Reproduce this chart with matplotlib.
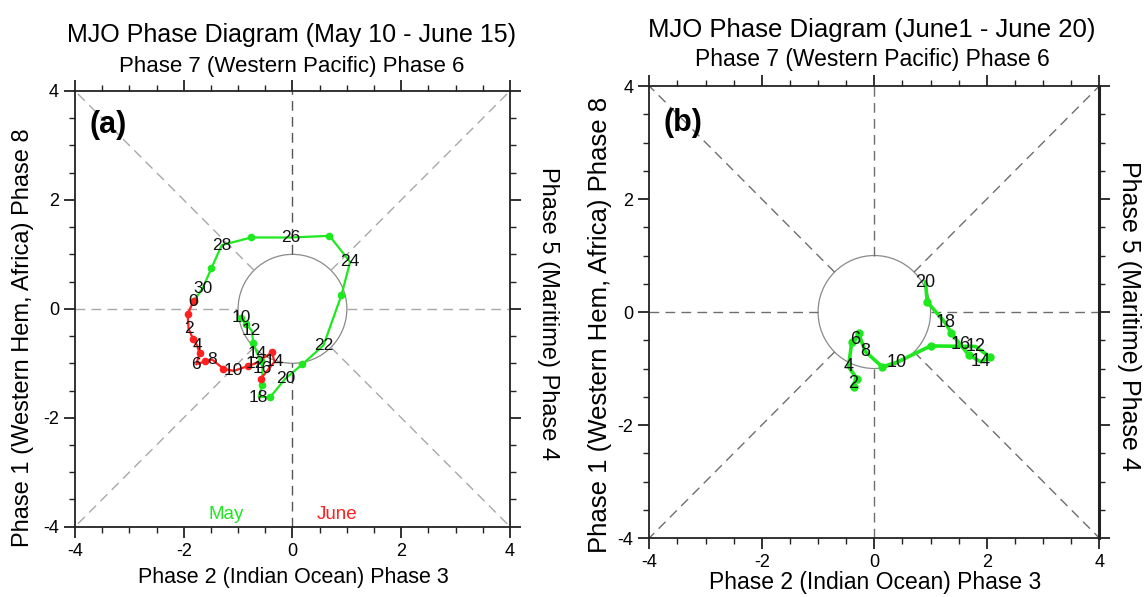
import numpy as np
import matplotlib
matplotlib.use("Agg")
from matplotlib import pyplot as plt
from matplotlib.patches import Circle

plt.rcParams['font.family'] = ['Liberation Sans', 'DejaVu Sans']
plt.rcParams['axes.unicode_minus'] = False

# panel (a): May 10 - May 31 (green), June 1 - June 15 (red)
may_days = list(range(10, 32))
may_x = [-0.95, -0.85, -0.75, -0.72, -0.65, -0.58, -0.55, -0.56, -0.62, -0.41, -0.13,
         0.18, 0.57, 0.90, 1.06, 0.68, -0.03, -0.76, -1.30, -1.49, -1.65, -1.82]
may_y = [-0.16, -0.28, -0.40, -0.62, -0.82, -0.95, -1.10, -1.40, -1.62, -1.62, -1.28,
         -1.02, -0.67, 0.25, 0.86, 1.34, 1.31, 1.31, 1.17, 0.75, 0.38, 0.14]

june_days = list(range(1, 16))
june_x = [-1.93, -1.91, -1.83, -1.75, -1.71, -1.77, -1.60, -1.48, -1.27, -1.08, -0.82,
          -0.68, -0.38, -0.33, -0.58]
june_y = [-0.10, -0.37, -0.55, -0.68, -0.82, -1.02, -0.96, -0.93, -1.10, -1.14, -1.05,
          -1.00, -0.80, -0.97, -1.28]

# panel (b): June 1 - June 20
b_days = list(range(1, 21))
b_x = [-0.36, -0.37, -0.30, -0.46, -0.40, -0.34, -0.28, -0.16, 0.14, 0.40, 1.00,
       1.80, 2.06, 1.89, 1.68, 1.53, 1.37, 1.26, 0.94, 0.91]
b_y = [-1.32, -1.27, -1.19, -0.97, -0.53, -0.49, -0.38, -0.70, -0.97, -0.89, -0.60,
       -0.61, -0.80, -0.88, -0.76, -0.58, -0.37, -0.19, 0.18, 0.53]

ticks = [-4, -2, 0, 2, 4]
GREEN = '#1ee81e'
RED = '#ff2020'


def fundo(ax, cor_diag, cor_vert, lw_dir=1.3):
    # linhas tracejadas das fases e circulo unitario
    r = 1 / np.sqrt(2)
    for sx in (-1, 1):
        for sy in (-1, 1):
            ax.plot([sx * r, sx * 4], [sy * r, sy * 4], ls=(0, (7, 4.5)), color=cor_diag, lw=1)
    ax.plot([-4, -1], [0, 0], ls=(0, (7, 4.5)), color=cor_diag, lw=1)
    ax.plot([1, 4], [0, 0], ls=(0, (7, 4.5)), color=cor_diag, lw=1)
    ax.plot([0, 0], [1, 4], ls=(0, (7, 4.5)), color=cor_vert, lw=1)
    ax.plot([0, 0], [-4, -1], ls=(0, (7, 4.5)), color=cor_vert, lw=1)
    ax.add_patch(Circle((0, 0), 1, fill=False, ec='#8a8a8a', lw=0.9))

    ax.set_xlim(-4, 4)
    ax.set_ylim(-4, 4)
    ax.set_aspect('auto')
    ax.set_xticks(ticks)
    ax.set_yticks(ticks)
    ax.set_xticks(np.arange(-4, 4.01, 0.5), minor=True)
    ax.set_yticks(np.arange(-4, 4.01, 0.5), minor=True)
    ax.tick_params(which='both', direction='out', top=True, right=True, labelsize=13,
                   width=1.3, color='#222222')
    ax.tick_params(which='major', length=8)
    ax.tick_params(which='minor', length=4, width=1)
    for s in ax.spines.values():
        s.set_linewidth(1.3)
        s.set_color('#222222')
    ax.spines['right'].set_linewidth(lw_dir)


def trajeto(ax, xs, ys, dias, cor, lw, ms, fs):
    ax.plot(xs, ys, color=cor, lw=lw, zorder=3)
    mx = [x for x, d in zip(xs, dias) if d % 2 == 1 or d == dias[0]]
    my = [y for y, d in zip(ys, dias) if d % 2 == 1 or d == dias[0]]
    ax.plot(mx, my, 'o', color=cor, ms=ms, zorder=4)
    for x, y, d in zip(xs, ys, dias):
        if d % 2 == 0:
            ax.text(x, y, str(d), ha='center', va='center', fontsize=fs, color='#111111', zorder=5)


fig = plt.figure(figsize=(11.45, 5.97), dpi=100)

# ---------- (a)
ax = fig.add_axes([0.0655, 0.1178, 0.3799, 0.7298])
fundo(ax, '#a8a8a8', '#555555')
trajeto(ax, may_x, may_y, may_days, GREEN, 1.6, 4.5, 12.5)
trajeto(ax, [may_x[-1]] + june_x, [may_y[-1]] + june_y, [0] + june_days, RED, 1.6, 4.5, 12.5)
ax.text(0.033, 0.922, '(a)', transform=ax.transAxes, fontsize=22, fontweight='bold',
        va='center', ha='left')
ax.text(-1.22, -3.78, 'May', color=GREEN, fontsize=13.5, ha='center', va='center')
ax.text(0.82, -3.78, 'June', color=RED, fontsize=13.5, ha='center', va='center')

fig.text(0.255, 0.941, 'MJO Phase Diagram (May 10 - June 15)', ha='center', va='center', fontsize=18)
fig.text(0.255, 0.888, 'Phase 7 (Western Pacific) Phase 6', ha='center', va='center', fontsize=16)
fig.text(0.256, 0.032, 'Phase 2 (Indian Ocean) Phase 3', ha='center', va='center', fontsize=15.5)
fig.text(0.020, 0.435, 'Phase 1 (Western Hem, Africa) Phase 8', ha='center', va='center',
         rotation=90, fontsize=17)
fig.text(0.479, 0.475, 'Phase 5 (Maritime) Phase 4', ha='center', va='center',
         rotation=-90, fontsize=17)

# ---------- (b)
bx = fig.add_axes([0.5671, 0.0988, 0.3930, 0.7571])
fundo(bx, '#6e6e6e', '#6e6e6e', lw_dir=2.2)
trajeto(bx, b_x, b_y, b_days, GREEN, 2.6, 5, 13)
bx.text(0.031, 0.918, '(b)', transform=bx.transAxes, fontsize=22, fontweight='bold',
        va='center', ha='left')

fig.text(0.7616, 0.950, 'MJO Phase Diagram (June1 - June 20)', ha='center', va='center', fontsize=18.5)
fig.text(0.7616, 0.901, 'Phase 7 (Western Pacific) Phase 6', ha='center', va='center', fontsize=16.5)
fig.text(0.764, 0.025, 'Phase 2 (Indian Ocean) Phase 3', ha='center', va='center', fontsize=16.5)
fig.text(0.524, 0.456, 'Phase 1 (Western Hem, Africa) Phase 8', ha='center', va='center',
         rotation=90, fontsize=18.5)
fig.text(0.986, 0.47, 'Phase 5 (Maritime) Phase 4', ha='center', va='center',
         rotation=-90, fontsize=18)

plt.savefig('out.png')
